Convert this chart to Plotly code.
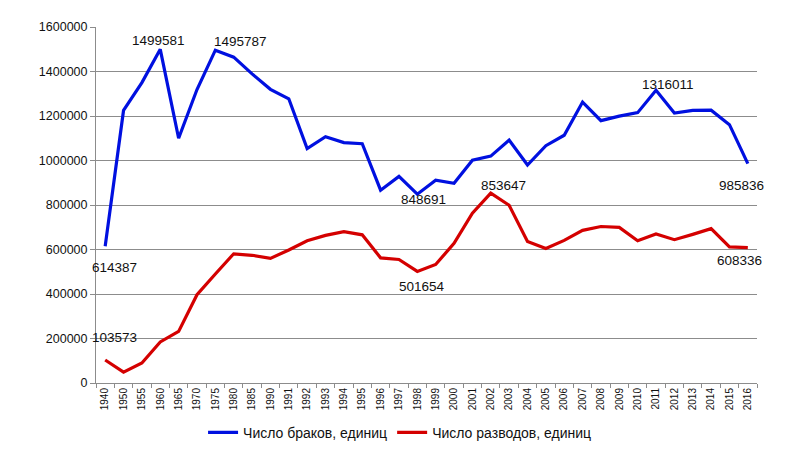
import plotly.graph_objects as go

# categories (years) on the x axis
years = ['1940', '1950', '1955', '1960', '1965', '1970', '1975', '1980', '1985',
         '1990', '1991', '1992', '1993', '1994', '1995', '1996', '1997', '1998',
         '1999', '2000', '2001', '2002', '2003', '2004', '2005', '2006', '2007',
         '2008', '2009', '2010', '2011', '2012', '2013', '2014', '2015', '2016']

# marriages
marriages = [614387, 1225000, 1350000, 1499581, 1100000, 1319000, 1495787, 1464579,
             1389400, 1319928, 1277232, 1053717, 1106723, 1080600, 1075219, 866651,
             928411, 848691, 911162, 897327, 1001589, 1019762, 1091778, 979667,
             1066366, 1113562, 1262500, 1179007, 1199446, 1215066, 1316011, 1213598,
             1225501, 1225985, 1161068, 985836]

# divorces
divorces = [103573, 49000, 90000, 184400, 232000, 396600, 490000, 580700,
            574000, 559918, 597930, 639248, 663282, 680494, 665904, 562415,
            555173, 501654, 532533, 627703, 763493, 853647, 798824, 635835,
            604942, 640837, 685910, 703412, 699430, 639321, 669376, 644101,
            667971, 693730, 611646, 608336]

# which points carry a value label: (series, year, xshift, yshift)
labelled = [
    ('m', '1940', 9, -21),
    ('m', '1960', -2, 9),
    ('m', '1975', 25, 9),
    ('m', '1998', 6, -5),
    ('m', '2011', 12, 6),
    ('m', '2016', -6, -22),
    ('d', '1940', 9, 22),
    ('d', '1998', 5, -15),
    ('d', '2002', 13, 8),
    ('d', '2016', -8, -13),
]

FONT = 'Liberation Sans'

fig = go.Figure()
fig.add_trace(go.Scatter(x=years, y=marriages, mode='lines',
                         name='Число браков, единиц',
                         line=dict(color='#0010e0', width=3.2)))
fig.add_trace(go.Scatter(x=years, y=divorces, mode='lines',
                         name='Число разводов, единиц',
                         line=dict(color='#d40000', width=3.2)))

for series, yr, dx, dy in labelled:
    vals = marriages if series == 'm' else divorces
    i = years.index(yr)
    # category axis: position by category index
    fig.add_annotation(x=i, y=vals[i], text=str(vals[i]), showarrow=False,
                       xshift=dx, yshift=dy,
                       font=dict(family=FONT, size=13.5, color='#111111'))

# the page adds an 8px body margin, so margins are reduced by 8
fig.update_layout(
    width=800, height=460,
    margin=dict(l=88, r=51, t=16, b=85),
    plot_bgcolor='white', paper_bgcolor='white',
    font=dict(family=FONT, color='#111111'),
    showlegend=True,
    legend=dict(orientation='h', x=0.46, xanchor='center', y=-0.14,
                yanchor='middle', font=dict(size=14), tracegroupgap=0),
)
fig.update_xaxes(type='category', range=[-0.5, len(years) - 0.5],
                 tickangle=-90, tickfont=dict(size=10),
                 showgrid=False, showline=True, linecolor='#8c8c8c',
                 ticks='outside', ticklen=4, tickcolor='#8c8c8c',
                 tickson='boundaries')
fig.update_yaxes(range=[0, 1600000], dtick=200000, tickformat='d',
                 tickfont=dict(size=12.5), showgrid=True, gridcolor='#8c8c8c',
                 gridwidth=1, showline=True, linecolor='#8c8c8c',
                 ticks='outside', ticklen=5, tickcolor='#8c8c8c',
                 zeroline=False)

fig.write_html("out.html")
